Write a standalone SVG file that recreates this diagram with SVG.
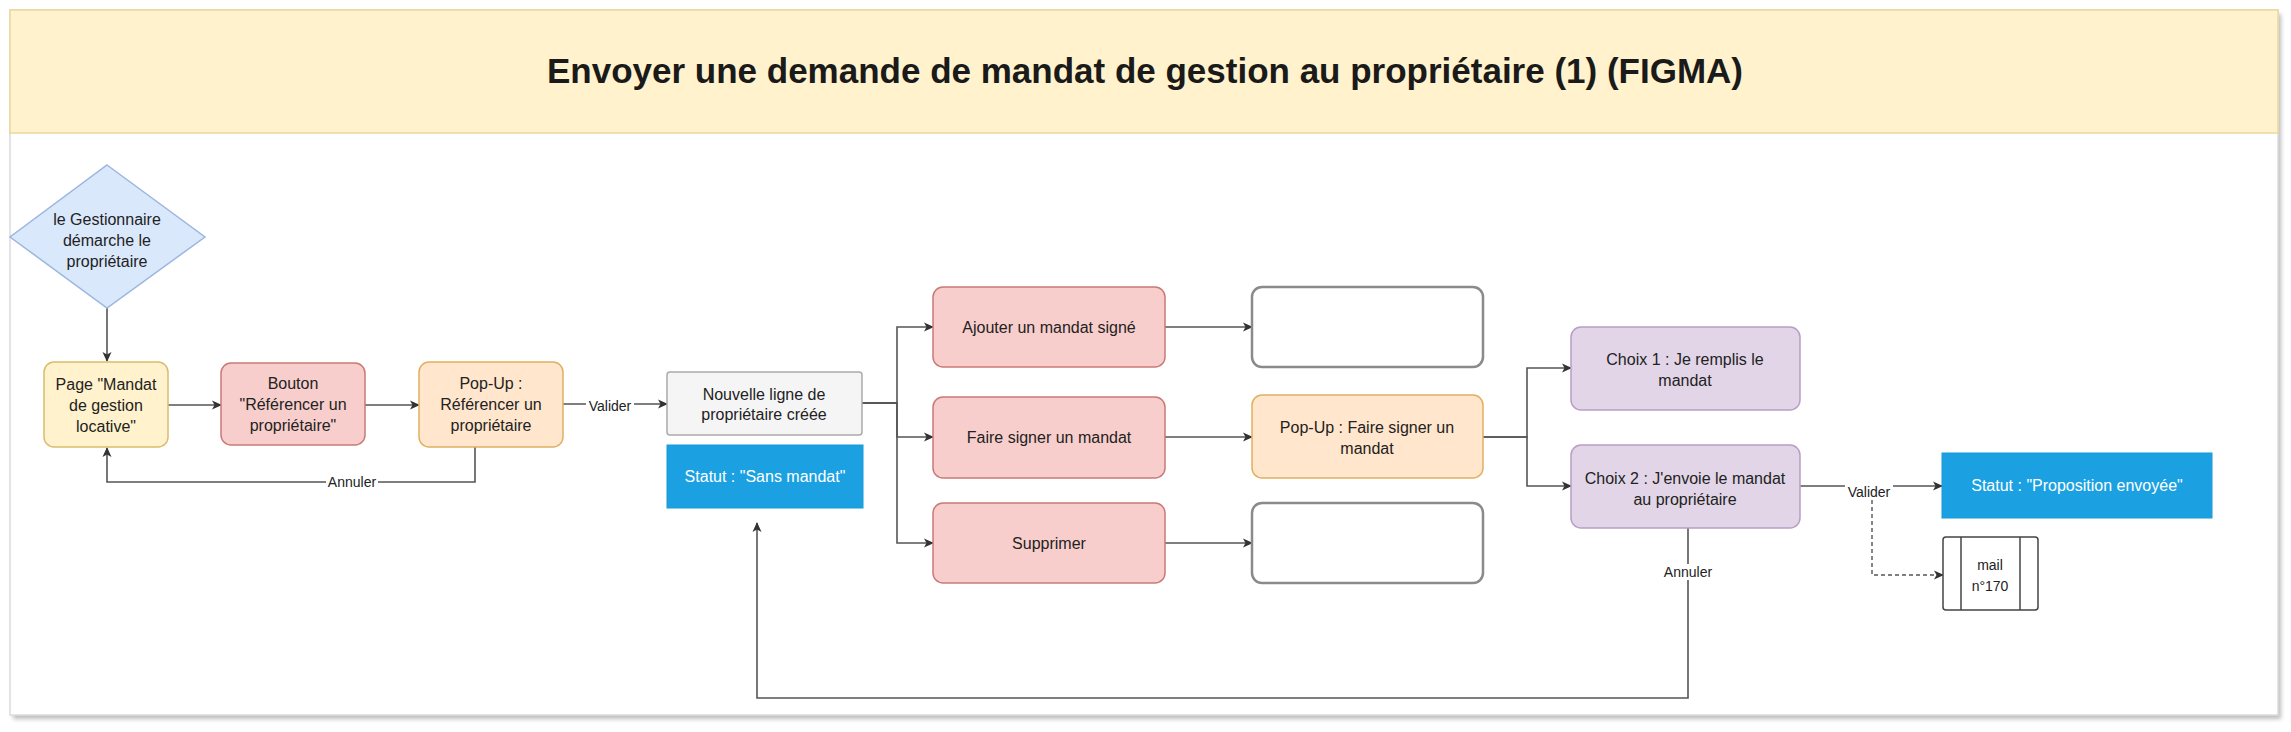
<svg xmlns="http://www.w3.org/2000/svg" width="2291" height="732" viewBox="0 0 2291 732">
<defs>
<marker id="arr" markerUnits="userSpaceOnUse" markerWidth="12" markerHeight="12" refX="10" refY="6" orient="auto">
<path d="M1,1.5 L11,6 L1,10.5 L3.5,6 Z" fill="#333"/>
</marker>
<filter id="sh" x="-5%" y="-5%" width="110%" height="110%"><feGaussianBlur stdDeviation="2"/></filter>
</defs>
<style>
text{font-family:"Liberation Sans",Arial,sans-serif;font-size:16px;fill:#222;text-anchor:middle}
.lbl{font-size:14px}
.w{fill:#fff}
.title{font-size:35px;font-weight:bold;fill:#1a1a1a}
.red{fill:#f8cecc;stroke:#c97a77;stroke-width:1.5}
.yel{fill:#fff2cc;stroke:#d9bd6a;stroke-width:1.5}
.org{fill:#ffe6cc;stroke:#e0b060;stroke-width:1.5}
.pur{fill:#e1d5e7;stroke:#b89ec6;stroke-width:1.5}
.gry{fill:#f5f5f5;stroke:#aaa;stroke-width:1.5}
.emp{fill:#fff;stroke:#8a8a8a;stroke-width:2.5}
.blu{fill:#1ba1e2;stroke:#1a9ad8;stroke-width:1}
.c{fill:none;stroke:#555;stroke-width:1.6}
.d{fill:none;stroke:#555;stroke-width:1.4;stroke-dasharray:4 3}
.lb{fill:#fff}
</style>
<rect width="2291" height="732" fill="#fff"/>
<g id="container">
<rect x="13" y="14" width="2268" height="705" fill="#bdbdbd" filter="url(#sh)"/>
<rect x="10" y="10" width="2268" height="705" fill="#fff" stroke="#dcdcdc" stroke-width="1.5"/>
<rect x="10" y="10" width="2268" height="123" fill="#fff2cc" stroke="#ecd89c" stroke-width="1.5"/>
<text class="title" x="1145" y="83">Envoyer une demande de mandat de gestion au propriétaire (1) (FIGMA)</text>
</g>
<g id="connectors">
<path class="c" d="M107,308 V361" marker-end="url(#arr)"/>
<path class="c" d="M168,405 H221" marker-end="url(#arr)"/>
<path class="c" d="M365,405 H419" marker-end="url(#arr)"/>
<path class="c" d="M563,404 H667" marker-end="url(#arr)"/>
<path class="c" d="M475,447 V482 H107 V448" marker-end="url(#arr)"/>
<path class="c" d="M862,403 H897 V327 H933" marker-end="url(#arr)"/>
<path class="c" d="M862,403 H897 V437 H933" marker-end="url(#arr)"/>
<path class="c" d="M862,403 H897 V543 H933" marker-end="url(#arr)"/>
<path class="c" d="M1165,327 H1252" marker-end="url(#arr)"/>
<path class="c" d="M1165,437 H1252" marker-end="url(#arr)"/>
<path class="c" d="M1165,543 H1252" marker-end="url(#arr)"/>
<path class="c" d="M1483,437 H1527 V368 H1571" marker-end="url(#arr)"/>
<path class="c" d="M1483,437 H1527 V486 H1571" marker-end="url(#arr)"/>
<path class="d" d="M1872,486 V575 H1943" marker-end="url(#arr)"/>
<path class="c" d="M1800,486 H1942" marker-end="url(#arr)"/>
<path class="c" d="M1688,528 V698 H757 V523" marker-end="url(#arr)"/>
<rect class="lb" x="326" y="474" width="52" height="16"/>
<text class="lbl" x="352" y="487">Annuler</text>
<rect class="lb" x="586" y="398" width="48" height="16"/>
<text class="lbl" x="610" y="411">Valider</text>
<rect class="lb" x="1845" y="484" width="48" height="16"/>
<text class="lbl" x="1869" y="497">Valider</text>
<rect class="lb" x="1662" y="564" width="52" height="16"/>
<text class="lbl" x="1688" y="577">Annuler</text>
</g>
<g id="start">
<polygon points="107,165 205,237 107,308 10,237" fill="#dae8fc" stroke="#9db6df" stroke-width="1.5"/>
<text x="107" y="225">le Gestionnaire</text>
<text x="107" y="246">démarche le</text>
<text x="107" y="267">propriétaire</text>
</g>
<g id="page">
<rect class="yel" x="44" y="362" width="124" height="85" rx="10"/>
<text x="106" y="390">Page "Mandat</text>
<text x="106" y="411">de gestion</text>
<text x="106" y="432">locative"</text>
</g>
<g id="bouton">
<rect class="red" x="221" y="363" width="144" height="82" rx="10"/>
<text x="293" y="389">Bouton</text>
<text x="293" y="410">"Référencer un</text>
<text x="293" y="431">propriétaire"</text>
</g>
<g id="popup-ref">
<rect class="org" x="419" y="362" width="144" height="85" rx="10"/>
<text x="491" y="389">Pop-Up :</text>
<text x="491" y="410">Référencer un</text>
<text x="491" y="431">propriétaire</text>
</g>
<g id="nouvelle-ligne">
<rect class="gry" x="667" y="372" width="195" height="63" rx="3"/>
<text x="764" y="400">Nouvelle ligne de</text>
<text x="764" y="420">propriétaire créée</text>
</g>
<g id="statut-sans">
<rect class="blu" x="667" y="445" width="196" height="63"/>
<text class="w" x="765" y="482">Statut : "Sans mandat"</text>
</g>
<g id="ajouter">
<rect class="red" x="933" y="287" width="232" height="80" rx="10"/>
<text x="1049" y="333">Ajouter un mandat signé</text>
</g>
<g id="faire-signer">
<rect class="red" x="933" y="397" width="232" height="81" rx="10"/>
<text x="1049" y="443">Faire signer un mandat</text>
</g>
<g id="supprimer">
<rect class="red" x="933" y="503" width="232" height="80" rx="10"/>
<text x="1049" y="549">Supprimer</text>
</g>
<g id="vide-1">
<rect class="emp" x="1252" y="287" width="231" height="80" rx="10"/>
</g>
<g id="popup-signer">
<rect class="org" x="1252" y="395" width="231" height="83" rx="10"/>
<text x="1367" y="433">Pop-Up : Faire signer un</text>
<text x="1367" y="454">mandat</text>
</g>
<g id="vide-3">
<rect class="emp" x="1252" y="503" width="231" height="80" rx="10"/>
</g>
<g id="choix-1">
<rect class="pur" x="1571" y="327" width="229" height="83" rx="10"/>
<text x="1685" y="365">Choix 1 : Je remplis le</text>
<text x="1685" y="386">mandat</text>
</g>
<g id="choix-2">
<rect class="pur" x="1571" y="445" width="229" height="83" rx="10"/>
<text x="1685" y="484">Choix 2 : J'envoie le mandat</text>
<text x="1685" y="505">au propriétaire</text>
</g>
<g id="statut-proposition">
<rect class="blu" x="1942" y="453" width="270" height="65"/>
<text class="w" x="2077" y="491">Statut : "Proposition envoyée"</text>
</g>
<g id="mail">
<rect x="1943" y="537" width="95" height="73" rx="3" fill="#fff" stroke="#444" stroke-width="1.5"/>
<line x1="1961" y1="537" x2="1961" y2="610" stroke="#444" stroke-width="1.5"/>
<line x1="2020" y1="537" x2="2020" y2="610" stroke="#444" stroke-width="1.5"/>
<text class="lbl" x="1990" y="570">mail</text>
<text class="lbl" x="1990" y="591">n°170</text>
</g>
</svg>
